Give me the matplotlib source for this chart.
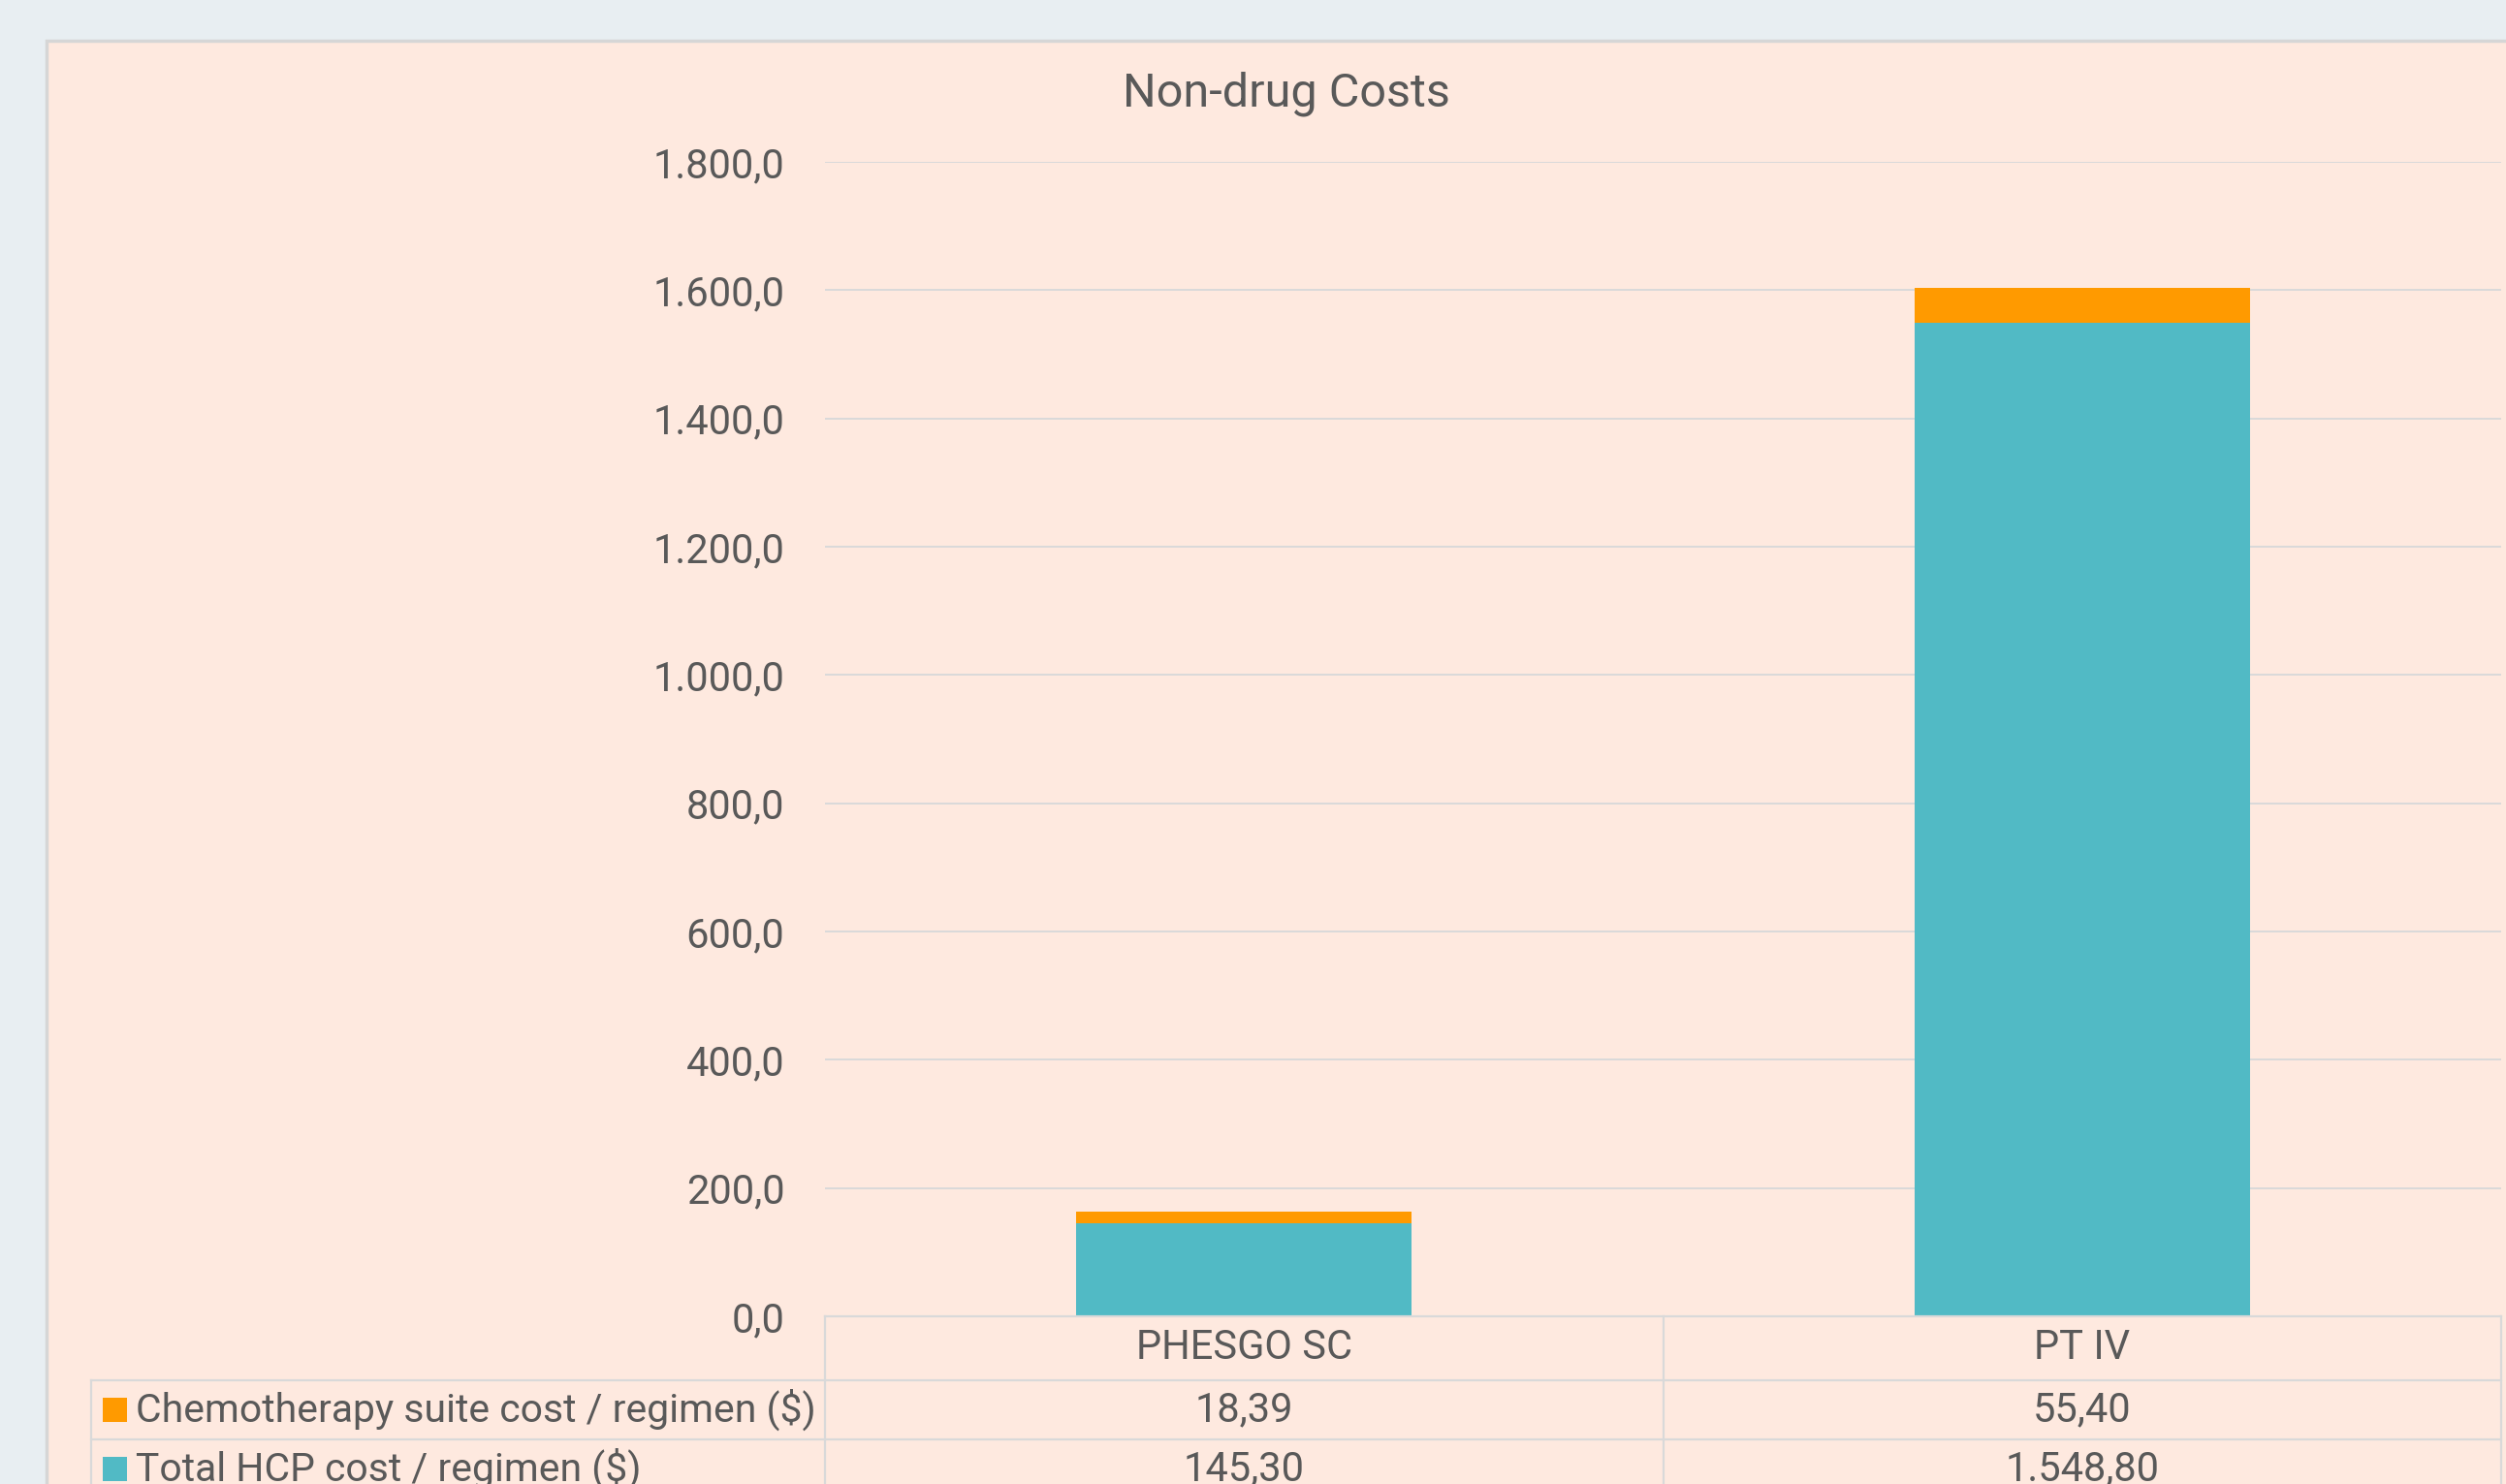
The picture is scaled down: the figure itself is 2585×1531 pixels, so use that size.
import matplotlib
matplotlib.use("Agg")
import matplotlib.pyplot as plt
from matplotlib.patches import Rectangle
from matplotlib.lines import Line2D

plt.rcParams['font.family'] = ['Roboto', 'DejaVu Sans']

# ---- data ----
categories = ["PHESGO SC", "PT IV"]
series_names = ["Chemotherapy suite cost / regimen ($)", "Total HCP cost / regimen ($)"]
chemo_cost = [18.39, 55.40]
hcp_cost = [145.30, 1548.80]
y_ticks = [0, 200, 400, 600, 800, 1000, 1200, 1400, 1600, 1800]
title = "Non-drug Costs"

# ---- style ----
W, H = 2585, 1531
DPI = 100
outer_bg = "#E8EEF2"
chart_bg = "#FEE9DF"
teal = "#51BAC5"
orange = "#FF9A00"
text_col = "#595959"
grid_col = "#D9D9D9"
FS = 30


def eu(v, d):
    s = f"{v:,.{d}f}"
    return s.replace(",", "X").replace(".", ",").replace("X", ".")


def fx(px):
    return px / W


def fy(py):
    return 1 - py / H


fig = plt.figure(figsize=(W / DPI, H / DPI), dpi=DPI)
fig.patch.set_facecolor(outer_bg)

# chart area
fig.patches.append(Rectangle((fx(48), -0.01), 1 - fx(48) + 0.01, fy(42) + 0.01, transform=fig.transFigure,
                             facecolor=chart_bg, edgecolor="#D6D6D6", linewidth=2.5, zorder=-5))

# plot area
x_left, x_right = 851, 2580
y_top, y_bot = 167, 1358
ax = fig.add_axes([fx(x_left), fy(y_bot), fx(x_right) - fx(x_left), fy(y_top) - fy(y_bot)])
ax.set_zorder(2)
ax.set_facecolor("none")
xs = list(range(len(categories)))
ax.bar(xs, hcp_cost, width=0.40, color=teal, zorder=3)
ax.bar(xs, chemo_cost, width=0.40, bottom=hcp_cost, color=orange, zorder=3)
ax.set_xlim(-0.5, len(categories) - 0.5)
ax.set_ylim(0, 1800)
ax.set_yticks(y_ticks)
ax.set_yticklabels([eu(v, 1) for v in y_ticks], fontsize=FS, color=text_col)
ax.tick_params(axis="y", length=0, pad=30)
ax.set_xticks([])
ax.grid(axis="y", color=grid_col, linewidth=1.4, zorder=0)
ax.set_axisbelow(True)
for s in ax.spines.values():
    s.set_visible(False)

fig.text(fx(1327), fy(97), title, fontsize=35, color=text_col, ha="center", va="center")

# ---- data table ----
col_edges = [851, 1716, 2580]
row_edges = [1358, 1424, 1485, 1546]
legend_left = 94
lc = grid_col
lw = 1.6


def hline(y, x0, x1):
    fig.add_artist(Line2D([fx(x0), fx(x1)], [fy(y), fy(y)], transform=fig.transFigure,
                          color=lc, linewidth=lw, zorder=4))


def vline(x, y0, y1):
    fig.add_artist(Line2D([fx(x), fx(x)], [fy(y0), fy(y1)], transform=fig.transFigure,
                          color=lc, linewidth=lw, zorder=4))


hline(row_edges[0], col_edges[0], col_edges[-1])
for r in row_edges[1:3]:
    hline(r, legend_left, col_edges[-1])
for c in col_edges:
    vline(c, row_edges[0], H + 10)
vline(legend_left, row_edges[1], H + 10)

centers = [(col_edges[i] + col_edges[i + 1]) / 2 for i in range(len(categories))]
hdr_y = (row_edges[0] + row_edges[1]) / 2
for cx, cat in zip(centers, categories):
    fig.text(fx(cx), fy(hdr_y), cat, fontsize=FS, color=text_col, ha="center", va="center")

rows = [(series_names[0], orange, chemo_cost), (series_names[1], teal, hcp_cost)]
for i, (name, colr, vals) in enumerate(rows):
    ry = (row_edges[i + 1] + row_edges[i + 2]) / 2
    sq = 25
    fig.patches.append(Rectangle((fx(106), fy(ry + sq / 2)), sq / W, sq / H, transform=fig.transFigure,
                                 facecolor=colr, edgecolor="none", zorder=4))
    fig.text(fx(140), fy(ry), name, fontsize=29.4, color=text_col, ha="left", va="center")
    for cx, v in zip(centers, vals):
        fig.text(fx(cx), fy(ry), eu(v, 2), fontsize=FS, color=text_col, ha="center", va="center")

fig.savefig("out.png", dpi=DPI, facecolor=fig.get_facecolor())
